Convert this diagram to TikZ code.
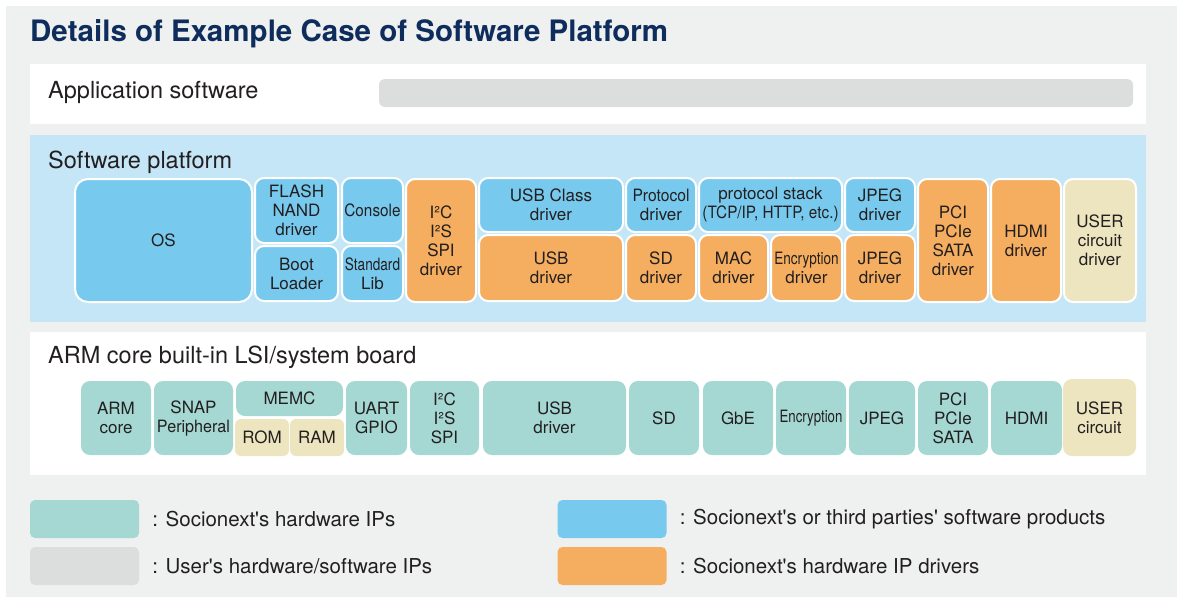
\documentclass[tikz,border=0pt]{standalone}
\usepackage{fontspec}
\setmainfont{TeX Gyre Heros}
\usepackage{tikz}
\usetikzlibrary{positioning}

\definecolor{bggray}{HTML}{EFF1F0}
\definecolor{platblue}{HTML}{C5E6F6}
\definecolor{swblue}{HTML}{78C9EE}
\definecolor{drvorange}{HTML}{F5AE5F}
\definecolor{usrbeige}{HTML}{EDE5BF}
\definecolor{hwteal}{HTML}{A5D8D3}
\definecolor{usrgray}{HTML}{DCDDDD}
\definecolor{navy}{HTML}{0E2D5C}
\definecolor{ink}{HTML}{231F20}

\newcommand{\nrw}[2]{\scalebox{#1}[1]{#2}}

\begin{document}
\begin{tikzpicture}[x=1pt,y=-1pt,
  blk/.style={rounded corners=9pt, align=center, inner sep=0pt, text=ink,
    font=\fontsize{17}{19}\selectfont},
  upper/.style={blk, draw=white, line width=2pt},
  sw/.style={upper, fill=swblue},
  drv/.style={upper, fill=drvorange},
  usr/.style={upper, fill=usrbeige},
  hw/.style={blk, fill=hwteal},
  mem/.style={blk, fill=usrbeige},
  lbl/.style={anchor=base west, inner sep=0pt, text=ink, font=\fontsize{23.5}{26}\selectfont},
  swatch/.style={rounded corners=5pt, minimum width=109, minimum height=38, inner sep=0pt},
  keytxt/.style={inner sep=0pt, text=ink, font=\fontsize{20.5}{24}\selectfont}]
  \useasboundingbox (0,0) rectangle (1177,597);

  % panels
  \fill[bggray] (6,6) rectangle (1177,597);
  \fill[white] (30,64) rectangle (1146,124);
  \fill[platblue] (30,135) rectangle (1146,322);
  \fill[white] (30,332) rectangle (1146,475);

  \node (ttl) [anchor=base west, inner sep=0pt, text=navy,
    font=\fontsize{29.5}{33}\selectfont\bfseries] at (30,41)
    {Details of Example Case of Software Platform};

  % application software
  \node (applbl) [lbl] at (48,98) {Application software};
  \node (appbar) [fill=usrgray, rounded corners=6pt, minimum width=754,
    minimum height=28, inner sep=0pt] at (756,93) {};

  % software platform
  \node (platlbl) [lbl] at (48,168) {Software platform};
  \node (os)    [sw, rounded corners=13pt, minimum width=177, minimum height=123] at (163.5,240.5) {OS};
  \node (flash) [sw, minimum width=83, minimum height=65] at (296.5,210.5) {FLASH\\NAND\\driver};
  \node (boot)  [sw, minimum width=83, minimum height=55] at (296.5,273.5) {Boot\\Loader};
  \node (cons)  [sw, minimum width=61, minimum height=65] at (372.5,210.5) {\nrw{0.9}{Console}};
  \node (stdlib)[sw, minimum width=61, minimum height=55] at (372.5,273.5) {\nrw{0.8}{Standard}\\Lib};
  \node (iicdrv)[drv, minimum width=70, minimum height=123] at (441,240.5) {I²C\\I²S\\SPI\\driver};
  \node (usbcls)[sw, minimum width=144, minimum height=54] at (551,205) {USB Class\\driver};
  \node (usbdrv)[drv, minimum width=144, minimum height=66] at (551,268) {USB\\driver};
  \node (proto) [sw, minimum width=70, minimum height=54] at (661,205) {\nrw{0.92}{Protocol}\\driver};
  \node (sddrv) [drv, minimum width=70, minimum height=66] at (661,268) {SD\\driver};
  \node (stack) [sw, minimum width=143, minimum height=54] at (770.5,205)
    {protocol stack\\\nrw{0.9}{(TCP/IP, HTTP, etc.)}};
  \node (macdrv)[drv, minimum width=69, minimum height=66] at (733.5,268) {MAC\\driver};
  \node (encdrv)[drv, minimum width=71, minimum height=66] at (806.5,268) {\nrw{0.8}{Encryption}\\driver};
  \node (jpgsw) [sw, minimum width=70, minimum height=54] at (880,205) {JPEG\\driver};
  \node (jpgdrv)[drv, minimum width=70, minimum height=66] at (880,268) {JPEG\\driver};
  \node (pcidrv)[drv, minimum width=70, minimum height=123] at (953,240.5) {PCI\\PCIe\\SATA\\driver};
  \node (hdmdrv)[drv, minimum width=70, minimum height=123] at (1026,240.5) {HDMI\\driver};
  \node (usrdrv)[usr, minimum width=72, minimum height=123] at (1100,240.5) {USER\\circuit\\driver};

  % ARM core board
  \node (boardlbl) [lbl] at (48,363) {ARM core built-in LSI/system board};
  \node (arm)  [hw, minimum width=70, minimum height=74] at (116,418) {ARM\\core};
  \node (snap) [hw, minimum width=79, minimum height=74] at (193.5,418) {SNAP\\\nrw{0.95}{Peripheral}};
  \node (memc) [hw, minimum width=107, minimum height=35] at (289.5,398.5) {MEMC};
  \node (rom)  [mem, rounded corners=6pt, minimum width=54, minimum height=37] at (262,437.5) {ROM};
  \node (ram)  [mem, rounded corners=6pt, minimum width=54, minimum height=37] at (317,437.5) {RAM};
  \node (uart) [hw, minimum width=61, minimum height=74] at (376.5,418) {UART\\GPIO};
  \node (iic)  [hw, minimum width=69, minimum height=74] at (444.5,418) {I²C\\I²S\\SPI};
  \node (usb)  [hw, minimum width=143, minimum height=74] at (554.5,418) {USB\\driver};
  \node (sd)   [hw, minimum width=70, minimum height=74] at (664,418) {SD};
  \node (gbe)  [hw, minimum width=70, minimum height=74] at (738,418) {GbE};
  \node (enc)  [hw, minimum width=70, minimum height=74] at (811,418) {\nrw{0.78}{Encryption}};
  \node (jpg)  [hw, minimum width=66, minimum height=74] at (882,418) {JPEG};
  \node (pci)  [hw, minimum width=70, minimum height=74] at (953,418) {PCI\\PCIe\\SATA};
  \node (hdmi) [hw, minimum width=71, minimum height=74] at (1026.5,418) {HDMI};
  \node (usrc) [mem, minimum width=73, minimum height=77] at (1099.5,417.5) {USER\\circuit};

  % legend
  \node (khw)  [swatch, fill=hwteal] at (84.5,519) {};
  \node (kusr) [swatch, fill=usrgray] at (84.5,566) {};
  \node (ksw)  [swatch, fill=swblue] at (612,519) {};
  \node (kdrv) [swatch, fill=drvorange] at (612,566) {};
  \node (thw)  [keytxt, right=13pt of khw]  {: Socionext\textquotesingle s hardware IPs};
  \node (tusr) [keytxt, right=13pt of kusr] {: User\textquotesingle s hardware/software IPs};
  \node (tsw)  [keytxt, right=13pt of ksw]  {: Socionext\textquotesingle s or third parties\textquotesingle\ software products};
  \node (tdrv) [keytxt, right=13pt of kdrv] {: Socionext\textquotesingle s hardware IP drivers};
\end{tikzpicture}
\end{document}
